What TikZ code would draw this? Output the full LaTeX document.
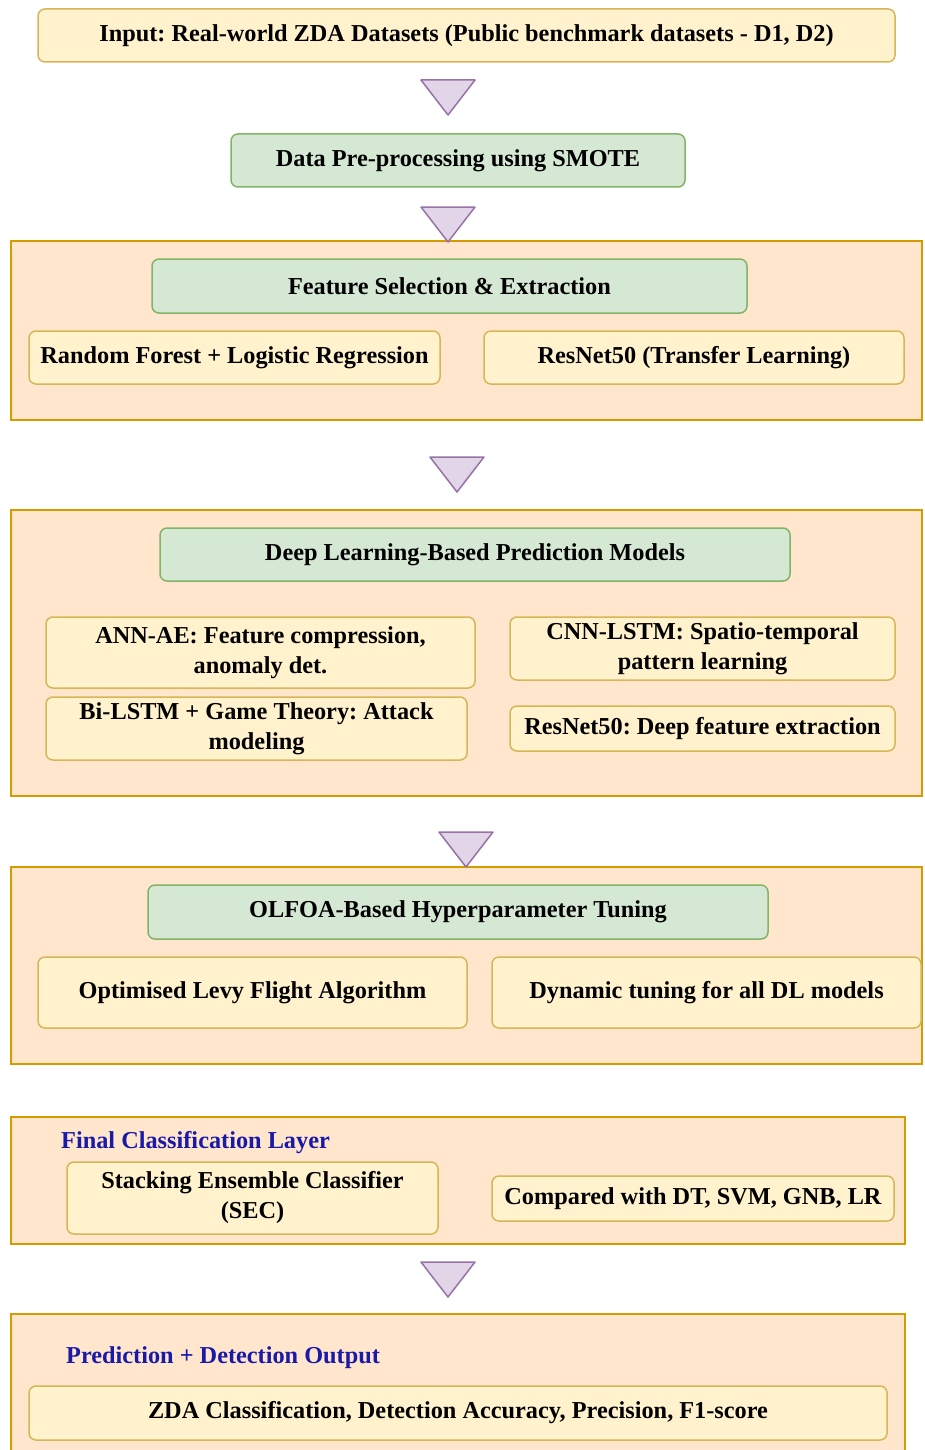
\documentclass[tikz,border=0pt]{standalone}
\usepackage{fontspec}
\setmainfont{Liberation Serif}
\usetikzlibrary{positioning}
\definecolor{yelfill}{HTML}{FFF2CC}
\definecolor{yeldraw}{HTML}{D6B656}
\definecolor{grnfill}{HTML}{D5E8D4}
\definecolor{grndraw}{HTML}{82B366}
\definecolor{orgfill}{HTML}{FFE6CC}
\definecolor{orgdraw}{HTML}{D79B00}
\definecolor{purfill}{HTML}{E1D5E7}
\definecolor{purdraw}{HTML}{9673A6}
\definecolor{lblblue}{HTML}{1A1AA8}
\frenchspacing
\begin{document}
\begin{tikzpicture}[x=1pt, y=-1pt, font=\fontsize{24.3}{30}\selectfont\bfseries,
          itembox/.style={rectangle, draw=yeldraw, fill=yelfill, line width=1.5pt, rounded corners=7pt, align=center, inner sep=0pt},
          headbox/.style={rectangle, draw=grndraw, fill=grnfill, line width=1.5pt, rounded corners=7pt, align=center, inner sep=0pt},
          groupbox/.style={rectangle, draw=orgdraw, fill=orgfill, line width=1.5pt, inner sep=0pt},
          grouplabel/.style={anchor=west, text=lblblue, inner sep=0pt},
          tri/.style={draw=purdraw, fill=purfill, line width=1.5pt, line join=round}]
        \useasboundingbox (0,0) rectangle (924,1450);

        \node [itembox, minimum width=857pt, minimum height=53pt] (s1) at (466.5,35.5) {Input: Real-world ZDA Datasets (Public benchmark datasets - D1, D2)};
        \node [headbox, minimum width=454pt, minimum height=53pt] (s2) at (458,160.5) {Data Pre-processing using SMOTE};

        \node [groupbox, minimum width=911pt, minimum height=179pt] (g1) at (466.5,330.5) {};
        \node [headbox, minimum width=595pt, minimum height=54pt] (g1h) at (449.5,286) {Feature Selection \& Extraction};
        \node [itembox, minimum width=411pt, minimum height=53pt] (g1a) at (234.5,357.5) {Random Forest + Logistic Regression};
        \node [itembox, minimum width=420pt, minimum height=53pt] (g1b) at (694,357.5) {ResNet50 (Transfer Learning)};

        \node [groupbox, minimum width=911pt, minimum height=286pt] (g2) at (466.5,653) {};
        \node [headbox, minimum width=630pt, minimum height=53pt] (g2h) at (475,554.5) {Deep Learning-Based Prediction Models};
        \node [itembox, minimum width=429pt, minimum height=71pt] (g2a) at (260.5,652.5) {ANN-AE: Feature compression,\\anomaly det.};
        \node [itembox, minimum width=385pt, minimum height=63pt] (g2b) at (702.5,648.5) {CNN-LSTM: Spatio-temporal\\pattern learning};
        \node [itembox, minimum width=421pt, minimum height=63pt] (g2c) at (256.5,728.5) {Bi-LSTM + Game Theory: Attack\\modeling};
        \node [itembox, minimum width=385pt, minimum height=45pt] (g2d) at (702.5,728.5) {ResNet50: Deep feature extraction};

        \node [groupbox, minimum width=911pt, minimum height=197pt] (g3) at (466.5,965.5) {};
        \node [headbox, minimum width=620pt, minimum height=54pt] (g3h) at (458,912) {OLFOA-Based Hyperparameter Tuning};
        \node [itembox, minimum width=429pt, minimum height=71pt] (g3a) at (252.5,992.5) {Optimised Levy Flight Algorithm};
        \node [itembox, minimum width=429pt, minimum height=71pt] (g3b) at (706.5,992.5) {Dynamic tuning for all DL models};

        \node [groupbox, minimum width=894pt, minimum height=127pt] (g4) at (458,1180.5) {};
        \node [grouplabel] (g4h) at (61,1143) {Final Classification Layer};
        \node [itembox, minimum width=371pt, minimum height=72pt] (g4a) at (252.5,1198) {Stacking Ensemble Classifier\\(SEC)};
        \node [itembox, minimum width=402pt, minimum height=45pt] (g4b) at (693,1198.5) {Compared with DT, SVM, GNB, LR};

        \node [groupbox, minimum width=894pt, minimum height=151pt] (g5) at (458,1389.5) {};
        \node [grouplabel] (g5h) at (66,1358) {Prediction + Detection Output};
        \node [itembox, minimum width=858pt, minimum height=54pt] (g5a) at (458,1413) {ZDA Classification, Detection Accuracy, Precision, F1-score};

        \foreach \cx/\ty in {448/80, 448/207, 457/457, 466/832, 448/1262}
          \draw [tri] (\cx-27,\ty) -- (\cx+27,\ty) -- (\cx,\ty+35) -- cycle;
      \end{tikzpicture}
\end{document}
